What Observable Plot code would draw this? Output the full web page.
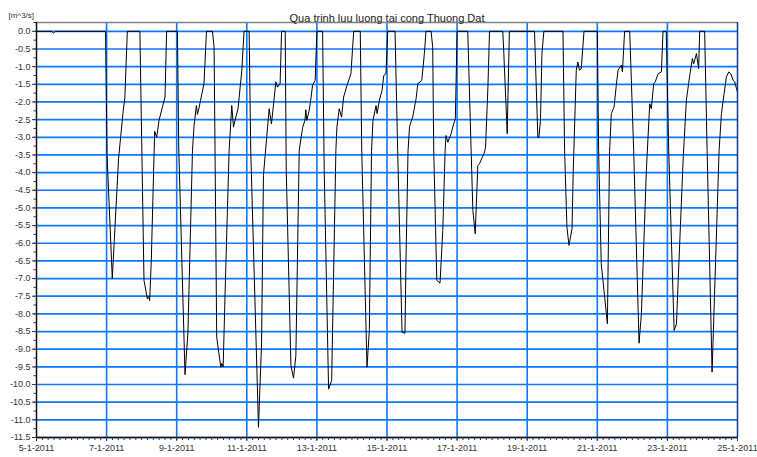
<!DOCTYPE html>
<html>
<head>
<meta charset="utf-8">
<script src="https://cdn.jsdelivr.net/npm/d3@7"></script>
<script src="https://cdn.jsdelivr.net/npm/@observablehq/plot@0.6"></script>
<style>
  html, body { margin: 0; padding: 0; background: #fff; }
  #chart { width: 757px; height: 457px; }
</style>
</head>
<body>
<div id="chart"></div>
<script>
// Title and units
const chartTitle = "Qua trinh luu luong tai cong Thuong Dat";
const unitLabel = "[m^3/s]";

// Time axis: start/end of the record (UTC)
const startDate = "2011-01-05T00:00:00Z";
const endDate = "2011-01-25T00:00:00Z";

// Hours elapsed since startDate for each sample
const hours = [
  0, 10.3, 11.7, 13.0, 47.3, 48.3, 51.9, 56.2, 59.4, 60.5, 62.2,
  70.8, 73.6, 75.9, 76.8, 77.5, 78.6, 80.9, 82.3, 83.9, 88.0, 89.1,
  96.5, 97.4, 101.7, 103.7, 106.8, 107.9, 109.5, 110.2, 111.1, 114.7, 116.4,
  120.5, 121.6, 123.4, 126.2, 126.9, 127.8, 129.6, 131.9, 133.7, 134.9, 136.5, 138.0, 140.6, 142.1,
  145.6, 146.7, 152.0, 154.1, 155.4, 159.3, 160.9, 163.9, 165.0, 166.8, 167.8,
  170.3, 171.0, 174.2, 176.0, 177.6, 179.9, 182.2, 183.8, 184.4, 185.1, 186.7, 187.9, 189.0, 190.8, 192.0,
  195.9, 197.0, 200.0, 202.1, 205.0, 205.7, 207.3, 208.9, 210.3, 212.6, 215.3, 217.2,
  221.7, 222.7, 226.3, 227.9, 229.4, 230.4, 232.5, 233.2, 234.8, 236.6, 237.8, 239.3, 240.5,
  245.5, 247.3, 250.3, 252.3, 253.0, 254.4, 255.4, 256.0, 257.6, 259.9, 261.1, 263.8, 265.6, 266.7,
  270.2, 271.3, 272.0, 274.1, 276.3, 278.2, 279.8, 280.4, 281.6, 283.9, 285.0, 286.1, 286.8, 288.0,
  295.3, 297.6, 298.8, 300.4, 302.2, 303.3, 306.8, 307.5, 309.1, 310.2,
  319.3, 320.0, 322.3, 323.8,
  341.0, 342.2, 343.3, 344.0, 345.1, 346.1, 347.4,
  360.5, 361.6, 363.2, 364.6, 366.7, 367.5, 369.6, 370.7, 371.8, 373.0, 374.9,
  384.0, 384.9, 386.7, 390.9, 392.4, 393.6, 395.5, 397.0, 398.2, 400.5, 401.2, 402.7,
  406.2, 408.9, 412.6, 414.2, 415.3, 417.6, 419.9, 421.0, 422.6, 423.7, 425.6, 427.9, 429.0,
  431.2, 432.9, 436.6, 438.2, 439.3, 442.8, 445.0, 447.3, 449.1, 450.0, 451.9, 453.4, 454.1,
  457.5, 459.2, 462.6, 467.4, 469.0, 470.8, 472.4, 474.0, 475.4, 477.0, 478.1, 480.0
];

// Discharge values [m^3/s]
const flow = [
  0, 0, -0.05, 0, 0, -3.5, -7.0, -3.6, -2.24, -1.88, 0,
  0, -7.05, -7.57, -7.5, -7.62, -6.49, -2.83, -3.0, -2.52, -1.86, 0,
  0, -3.3, -9.72, -8.52, -3.37, -2.66, -2.1, -2.35, -2.2, -1.48, 0,
  0, -0.45, -8.66, -9.51, -9.4, -9.5, -6.68, -3.37, -2.1, -2.71, -2.43, -2.19, -1.1, 0,
  0, -3.37, -11.21, -8.85, -4.08, -2.19, -2.62, -1.43, -1.58, -1.48, 0,
  0, -3.9, -9.46, -9.82, -9.18, -3.37, -2.73, -2.52, -2.22, -2.52, -2.24, -1.91, -1.53, -1.39, 0,
  0, -3.9, -10.13, -9.89, -3.37, -2.71, -2.19, -2.43, -1.86, -1.53, -1.2, 0,
  0, -3.37, -9.51, -8.47, -3.4, -2.52, -2.1, -2.33, -1.95, -1.67, -1.25, -1.2, 0,
  0, -3.37, -8.52, -8.55, -6.49, -3.4, -2.71, -2.62, -2.43, -1.91, -1.48, -1.39, -0.63, 0,
  0, -0.45, -3.37, -7.05, -7.13, -5.64, -3.37, -2.95, -3.14, -2.9, -2.71, -2.57, -2.47, 0,
  0, -3.37, -5.07, -5.73, -3.8, -3.75, -3.42, -3.28, -1.58, 0,
  0, -0.63, -2.9, 0,
  0, -1.58, -3.0, -3.0, -2.52, -0.63, 0,
  0, -3.37, -5.54, -6.06, -5.59, -4.0, -1.1, -0.87, -1.1, -1.06, 0,
  0, -3.37, -6.58, -8.28, -3.4, -2.33, -2.14, -1.53, -1.1, -0.96, -1.15, 0,
  0, -3.37, -8.83, -8.0, -6.68, -3.94, -2.05, -2.19, -1.48, -1.43, -1.2, -1.15, 0,
  0, -3.37, -8.47, -8.28, -7.15, -3.6, -1.95, -1.25, -0.77, -0.92, -0.63, -1.06, 0,
  0, -3.37, -9.65, -3.37, -2.33, -1.77, -1.29, -1.15, -1.2, -1.39, -1.43, -1.72
];

// Y-axis range and tick steps
const yMin = -11.5;
const yMax = 0.25;
const yMajorStep = 0.5;
const yMinorStep = 0.25;

// X-axis tick labels (every two days)
const xTickLabels = ["5-1-2011","7-1-2011","9-1-2011","11-1-2011","13-1-2011","15-1-2011",
                     "17-1-2011","19-1-2011","21-1-2011","23-1-2011","25-1-2011"];

const start = new Date(startDate);
const end = new Date(endDate);
const data = hours.map((h, i) => ({date: new Date(+start + h * 3600e3), flow: flow[i]}));

const xMajor = d3.utcDay.every(2).range(start, new Date(+end + 1));
const xLabelMap = new Map(xMajor.map((d, i) => [+d, xTickLabels[i]]));
const xMinor = d3.utcHour.every(4).range(start, new Date(+end + 1));
const xGrid = xMajor.filter(d => +d !== +start && +d !== +end);

const yMajor = d3.range(yMin, 0.001, yMajorStep);
const yMinor = d3.range(yMin, yMax + 0.001, yMinorStep);

const gridBlue = "#0a78ff";

const chart = Plot.plot({
  width: 757,
  height: 457,
  marginLeft: 36,
  marginRight: 20,
  marginTop: 22,
  marginBottom: 20,
  style: {fontFamily: "'Liberation Sans', Arial, sans-serif", fontSize: "9px", color: "#333", background: "#fff"},
  x: {type: "utc", domain: [start, end], label: null},
  y: {domain: [yMin, yMax], label: null},
  marks: [
    Plot.gridY(yMajor, {stroke: gridBlue, strokeOpacity: 1, strokeWidth: 1.7}),
    Plot.gridX(xGrid, {stroke: gridBlue, strokeOpacity: 1, strokeWidth: 1.6}),
    Plot.ruleY([yMax], {stroke: "#808080", strokeWidth: 1.5}),
    Plot.line(data, {x: "date", y: "flow", stroke: "#000", strokeWidth: 1}),
    Plot.ruleX([end], {stroke: "#0b3a8c", strokeWidth: 1.5}),
    Plot.ruleX([start], {stroke: "#111", strokeWidth: 1.5}),
    Plot.ruleY([yMin], {stroke: "#111", strokeWidth: 1.5}),
    Plot.axisY(yMajor, {tickSize: 4, tickPadding: 2, tickFormat: d => d.toFixed(1), label: null, fill: "#333"}),
    Plot.axisY(yMinor, {tickSize: 2.5, tickFormat: () => "", label: null}),
    Plot.axisX(xMajor, {tickSize: 4, tickPadding: 3, tickFormat: d => xLabelMap.get(+d), label: null, fill: "#333"}),
    Plot.axisX(xMinor, {tickSize: 3, tickFormat: () => "", label: null}),
    Plot.text([chartTitle], {frameAnchor: "top", dy: -8, fontSize: 11, fill: "#222"}),
    Plot.text([unitLabel], {frameAnchor: "top-left", dx: -28, dy: -10, fontSize: 8, textAnchor: "start", fill: "#333"})
  ]
});

document.getElementById("chart").appendChild(chart);
</script>
</body>
</html>
